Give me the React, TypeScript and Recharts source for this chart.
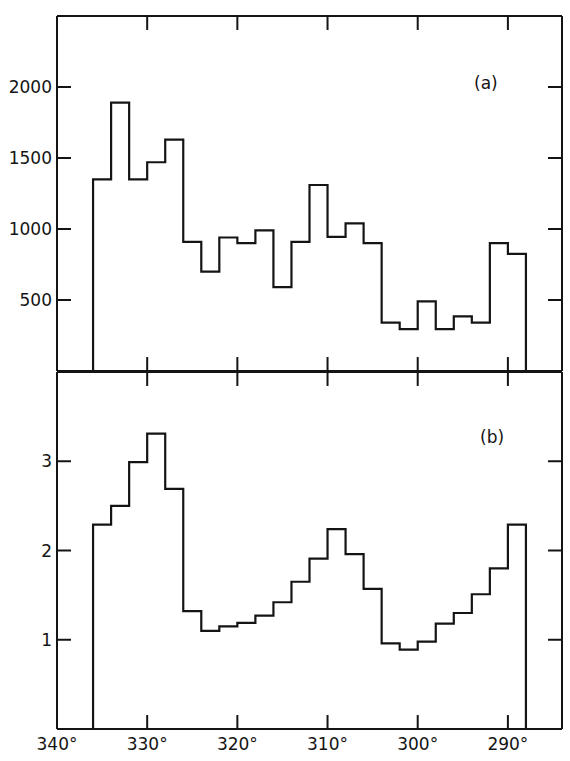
import React from 'react';
import { LineChart, Line, XAxis, YAxis, ReferenceLine } from 'recharts';

// left edge of each 2° bin, the axis runs from 340° down to ~284°
const binStart = [336, 334, 332, 330, 328, 326, 324, 322, 320, 318, 316, 314, 312, 310, 308, 306, 304, 302, 300, 298, 296, 294, 292, 290];
const lastEdge = 288;

// panel (a) counts
const countsA = [1350, 1890, 1350, 1470, 1630, 910, 700, 940, 900, 990, 590, 910, 1310, 945, 1040, 900, 340, 295, 490, 295, 385, 340, 900, 825];
// panel (b) values
const ratioB = [2.29, 2.5, 2.99, 3.31, 2.69, 1.32, 1.1, 1.15, 1.19, 1.27, 1.42, 1.65, 1.91, 2.24, 1.96, 1.57, 0.96, 0.89, 0.98, 1.18, 1.3, 1.51, 1.8, 2.29];

const degTicks = [340, 330, 320, 310, 300, 290];
const innerDegTicks = [330, 320, 310, 300, 290];
const ticksA = [500, 1000, 1500, 2000];
const ticksB = [1, 2, 3];

const X_MIN = 284;
const X_MAX = 340;
const FONT = '"DejaVu Sans", sans-serif';
const INK = '#141414';
const TL = 14; // tick length in px
const PLOT_W = 505;
const OFF = 8; // tickSize 6 + tickMargin 2

const toSteps = (vals: number[]) => [
  { deg: binStart[0], v: 0 },
  ...binStart.map((d, i) => ({ deg: d, v: vals[i] })),
  { deg: lastEdge, v: vals[vals.length - 1] },
  { deg: lastEdge, v: 0 },
];

const dataA = toSteps(countsA);
const dataB = toSteps(ratioB);

const leftLabel = (p: any) => (
  <text x={p.x + OFF - 5} y={p.y + 6} textAnchor="end" fontFamily={FONT} fontSize={17} fill={INK}>
    {p.payload.value}
  </text>
);

const bottomLabel = (withLabel: boolean) => (p: any) =>
  withLabel ? (
    <text x={p.x} y={p.y - OFF + 21} textAnchor="middle" fontFamily={FONT} fontSize={17} fill={INK}>
      {p.payload.value + '°'}
    </text>
  ) : (
    <g />
  );

const axisLine = { stroke: INK, strokeWidth: 2 };

// inward tick marks on all four sides of a panel
const frameTicks = (domainMax: number, yTicks: number[], plotH: number) => {
  const dx = ((X_MAX - X_MIN) * TL) / PLOT_W;
  const dy = (domainMax * TL) / plotH;
  const segs: any[] = [];
  yTicks.forEach((t) => {
    segs.push([{ x: X_MAX, y: t }, { x: X_MAX - dx, y: t }]);
    segs.push([{ x: X_MIN, y: t }, { x: X_MIN + dx, y: t }]);
  });
  innerDegTicks.forEach((d) => {
    segs.push([{ x: d, y: domainMax }, { x: d, y: domainMax - dy }]);
    segs.push([{ x: d, y: 0 }, { x: d, y: dy }]);
  });
  return segs.map((s, i) => (
    <ReferenceLine
      key={i}
      xAxisId="b"
      yAxisId="l"
      segment={s}
      stroke={INK}
      strokeWidth={2}
      ifOverflow="visible"
    />
  ));
};

const Panel = ({ data, domainMax, yTicks, top, height, margin, plotH, bottomLabels }: any) => (
  <div style={{ position: 'absolute', left: 0, top }}>
    <LineChart width={570} height={height} data={data} margin={margin}>
      <XAxis
        xAxisId="t"
        orientation="top"
        dataKey="deg"
        type="number"
        domain={[X_MIN, X_MAX]}
        reversed
        ticks={degTicks}
        interval={0}
        height={1}
        tickLine={false}
        axisLine={axisLine}
        tick={false}
      />
      <XAxis
        xAxisId="b"
        orientation="bottom"
        dataKey="deg"
        type="number"
        domain={[X_MIN, X_MAX]}
        reversed
        ticks={degTicks}
        interval={0}
        height={bottomLabels ? 32 : 1}
        tickSize={6}
        tickMargin={2}
        tickLine={false}
        axisLine={axisLine}
        tick={bottomLabel(bottomLabels)}
      />
      <YAxis
        yAxisId="l"
        orientation="left"
        width={57}
        type="number"
        domain={[0, domainMax]}
        ticks={yTicks}
        interval={0}
        tickSize={6}
        tickMargin={2}
        tickLine={false}
        axisLine={axisLine}
        tick={leftLabel}
      />
      <YAxis
        yAxisId="r"
        orientation="right"
        width={8}
        type="number"
        domain={[0, domainMax]}
        ticks={yTicks}
        tickLine={false}
        axisLine={axisLine}
        tick={false}
      />
      {frameTicks(domainMax, yTicks, plotH)}
      <Line
        xAxisId="b"
        yAxisId="l"
        type="stepAfter"
        dataKey="v"
        stroke={INK}
        strokeWidth={2.2}
        dot={false}
        isAnimationActive={false}
      />
    </LineChart>
  </div>
);

const panelLabel = (text: string, left: number, top: number) => (
  <div
    style={{
      position: 'absolute',
      left,
      top,
      fontFamily: FONT,
      fontSize: 17,
      color: INK,
      lineHeight: '20px',
    }}
  >
    {text}
  </div>
);

export default function App() {
  return (
    <div style={{ position: 'absolute', left: 0, top: 0, width: 570, height: 761 }}>
      <Panel
        data={dataA}
        domainMax={2500}
        yTicks={ticksA}
        top={0}
        height={380}
        margin={{ top: 15, right: 0, bottom: 8, left: 0 }}
        plotH={356}
        bottomLabels={false}
      />
      <Panel
        data={dataB}
        domainMax={4}
        yTicks={ticksB}
        top={361}
        height={400}
        margin={{ top: 10, right: 0, bottom: 0, left: 0 }}
        plotH={358}
        bottomLabels={true}
      />
      {panelLabel('(a)', 474, 73)}
      {panelLabel('(b)', 480, 427)}
    </div>
  );
}
